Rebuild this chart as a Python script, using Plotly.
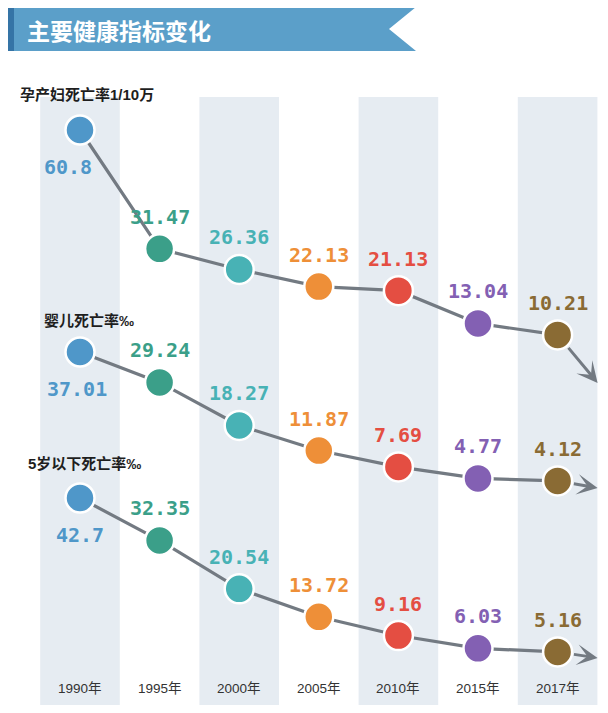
import plotly.graph_objects as go

# ---------------- data ----------------
years = ["1990年", "1995年", "2000年", "2005年", "2010年", "2015年", "2017年"]
maternal = [60.8, 31.47, 26.36, 22.13, 21.13, 13.04, 10.21]
infant = [37.01, 29.24, 18.27, 11.87, 7.69, 4.77, 4.12]
under5 = [42.7, 32.35, 20.54, 13.72, 9.16, 6.03, 5.16]
series_names = ["孕产妇死亡率1/10万", "婴儿死亡率‰", "5岁以下死亡率‰"]
title_text = "主要健康指标变化"

# ---------------- style ----------------
OFF = 8                      # page body margin
W, H = 608 - OFF, 713 - OFF  # figure size inside the page
point_colors = ["#4f97c9", "#3b9f89", "#48b2b5", "#ee8f38", "#e44e42", "#8360b3", "#8a6b34"]
line_color = "#737a82"
band_color = "#e6ecf2"
x_idx = list(range(len(years)))

def px(x):
    return (x - OFF) / W

def py(y):
    return 1 - (y - OFF) / H

# x mapping: page pixel = X0 + STEP * index
X0, STEP = 80, 79.6
x_range = [(OFF - X0) / STEP, (608 - X0) / STEP]

# each series: page pixel of its first point and px per unit
anchors = [(130, 4.05), (352, 3.92), (498, 4.10)]

fig = go.Figure()

series = [maternal, infant, under5]
axes = ["y", "y2", "y3"]
y_ranges = []
for vals, (p0, k) in zip(series, anchors):
    ymax = vals[0] + (p0 - OFF) / k
    y_ranges.append([ymax - H / k, ymax])

label_pos = [95, 320, 463]
label_x = [18, 42, 26]
arrow_tip = [(40, 48), (40, 7), (40, 6)]

for s, vals in enumerate(series):
    fig.add_trace(go.Scatter(
        x=x_idx, y=vals, yaxis=axes[s], mode="lines+markers",
        line=dict(color=line_color, width=3.2),
        marker=dict(size=29, color=point_colors, line=dict(color="white", width=2.5)),
        hoverinfo="skip", showlegend=False))
    # value labels
    for i, v in enumerate(vals):
        below = (i == 0)
        fig.add_annotation(
            x=i, y=v, xref="x", yref=axes[s], text=f"<b>{v:g}</b>",
            showarrow=False, yshift=-37 if below else 32,
            xshift=-12 if (below and s == 0) else (-3 if below and s == 1 else 0),
            font=dict(family="DejaVu Sans Mono", size=20, color=point_colors[i]),
            xanchor="center", yanchor="middle")
    # arrow continuing after last point
    dx, dy = arrow_tip[s]
    fig.add_annotation(
        x=x_idx[-1], y=vals[-1], xref="x", yref=axes[s], text="",
        showarrow=True, xshift=dx, yshift=-dy, ax=-dx, ay=-dy, axref="pixel", ayref="pixel",
        arrowhead=3, arrowsize=1.15, arrowwidth=3, arrowcolor=line_color, startstandoff=15)
    # series title
    fig.add_annotation(
        x=px(label_x[s]), y=py(label_pos[s]), xref="paper", yref="paper",
        text=f"<b>{series_names[s]}</b>", showarrow=False, xanchor="left", yanchor="middle",
        font=dict(family="Liberation Sans, Noto Sans CJK SC", size=15, color="#1e1e1e"))

# year labels
for i, yr in enumerate(years):
    fig.add_annotation(
        x=i, y=py(688), xref="x", yref="paper", text=yr, showarrow=False,
        font=dict(family="Liberation Sans, Noto Sans CJK SC", size=13.5, color="#333333"),
        xanchor="center", yanchor="middle")

shapes = []
# alternating column bands
for i in x_idx:
    if i % 2 == 0:
        shapes.append(dict(type="rect", xref="x", yref="paper", x0=i - 0.5, x1=i + 0.5,
                           y0=py(705), y1=py(97), fillcolor=band_color, line=dict(width=0),
                           layer="below"))

# title banner
banner_path = (f"M {px(8)},{py(7)} L {px(416)},{py(7)} L {px(389)},{py(29)} "
               f"L {px(416)},{py(51)} L {px(8)},{py(51)} Z")
shapes.append(dict(type="path", xref="paper", yref="paper", path=banner_path,
                   fillcolor="#5b9fc9", line=dict(width=0), layer="below"))
shapes.append(dict(type="rect", xref="paper", yref="paper", x0=px(8), x1=px(14),
                   y0=py(51), y1=py(7), fillcolor="#3574a6", line=dict(width=0), layer="below"))
fig.add_annotation(x=px(25), y=py(30), xref="paper", yref="paper", text=f"<b>{title_text}</b>",
                   showarrow=False, xanchor="left", yanchor="middle",
                   font=dict(family="Noto Sans CJK SC", size=23, color="white"))

fig.update_layout(
    width=W, height=H, margin=dict(l=0, r=0, t=0, b=0),
    paper_bgcolor="white", plot_bgcolor="rgba(0,0,0,0)",
    shapes=shapes, showlegend=False,
    xaxis=dict(range=x_range, visible=False, fixedrange=True),
    yaxis=dict(range=y_ranges[0], visible=False, fixedrange=True),
    yaxis2=dict(range=y_ranges[1], visible=False, overlaying="y", fixedrange=True),
    yaxis3=dict(range=y_ranges[2], visible=False, overlaying="y", fixedrange=True),
)

fig.write_html("out.html", config={"displayModeBar": False})
